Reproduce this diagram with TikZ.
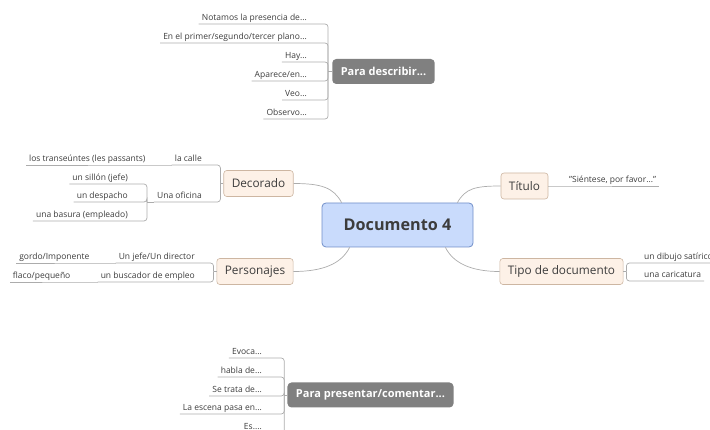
\documentclass[tikz,border=0pt]{standalone}
\usepackage{fontspec}
\setmainfont{Open Sans}
\usetikzlibrary{calc}
\definecolor{docfill}{RGB}{201,219,252}
\definecolor{docline}{RGB}{112,142,200}
\definecolor{topfill}{RGB}{253,241,231}
\definecolor{topline}{RGB}{205,182,162}
\definecolor{floatfill}{RGB}{128,128,128}
\definecolor{linegray}{RGB}{172,172,172}
\definecolor{txt}{RGB}{60,60,60}
\tikzset{
  central/.style={draw=docline, fill=docfill, rounded corners=4pt, line width=0.8pt,
    minimum width=151pt, minimum height=44pt, text=txt, font=\fontsize{16.2}{19}\selectfont\bfseries},
  topic/.style={draw=topline, fill=topfill, rounded corners=3pt, line width=0.6pt,
    inner xsep=8pt, minimum height=26pt, text=txt, font=\fontsize{11.8}{14}\selectfont},
  floating/.style={fill=floatfill, rounded corners=4pt, inner xsep=8.5pt, minimum height=25pt,
    text=white, font=\fontsize{11}{13}\selectfont\bfseries},
  leaf/.style={inner xsep=3pt, inner ysep=1.5pt, text height=6.3pt, text depth=2.2pt,
    text=txt, font=\fontsize{8.5}{10}\selectfont},
  conn/.style={draw=linegray, line width=0.7pt},
  brk/.style={conn, rounded corners=3pt}
}

\begin{document}
\begin{tikzpicture}[x=1pt, y=-1pt]
			%%%%% START %%%%%
			\useasboundingbox (0, 0) rectangle (710, 430);

			\node[central] (doc) at (397.5, 225) {Documento 4};

			\node[topic] (deco) at (258.5, 183.5) {Decorado};
			\node[topic] (pers) at (255, 271.5) {Personajes};
			\node[topic] (tit) at (524.5, 186) {Título};
			\node[topic] (tipo) at (561.5, 271.5) {Tipo de documento};

			\node[floating] (desc) at (383.5, 71.5) {Para describir...};
			\node[floating] (pres) at (370.5, 395) {Para presentar/comentar...};

			% branches from the centre
			\draw[conn] ([xshift=20pt]doc.north west) .. controls +(-8, -15) and +(28, 0) .. (deco.east);
			\draw[conn] ([xshift=28pt]doc.south west) .. controls +(-8, 16) and +(30, 0) .. (pers.east);
			\draw[conn] ([xshift=-16pt]doc.north east) .. controls +(8, -14) and +(-26, 0) .. (tit.west);
			\draw[conn] ([xshift=-28pt]doc.south east) .. controls +(8, 16) and +(-28, 0) .. (tipo.west);

			% para describir
			\node[leaf, anchor=south east] (d1) at (310, 24) {Notamos la presencia de...};
			\node[leaf, anchor=south east] (d2) at (310, 43) {En el primer/segundo/tercer plano...};
			\node[leaf, anchor=south east] (d3) at (310, 62) {Hay...};
			\node[leaf, anchor=south east] (d4) at (310, 81) {Aparece/en...};
			\node[leaf, anchor=south east] (d5) at (310, 100) {Veo...};
			\node[leaf, anchor=south east] (d6) at (310, 119) {Observo...};
			\draw[conn] (desc.west) -- ++(-4, 0) coordinate (descb);
			\foreach \n in {d1,d2,d3,d4,d5,d6}
				\draw[brk] (descb) |- (\n.south east) -- (\n.south west);

			% decorado
			\node[leaf, anchor=south east] (calle) at (205, 165) {la calle};
			\node[leaf, anchor=south east] (trans) at ([xshift=-23pt]calle.south west) {los transeúntes (les passants)};
			\node[leaf, anchor=south east] (ofi) at (205, 202) {Una oficina};
			\node[leaf, anchor=south east] (sillon) at (131, 184) {un sillón (jefe)};
			\node[leaf, anchor=south east] (desp) at (131, 202) {un despacho};
			\node[leaf, anchor=south east] (basura) at (131, 221) {una basura (empleado)};
			\draw[conn] (deco.west) -- ++(-3, 0) coordinate (decob);
			\foreach \n in {calle,ofi}
				\draw[brk] (decob) |- (\n.south east) -- (\n.south west);
			\draw[conn] (calle.south west) -- (trans.south east) -- (trans.south west);
			\draw[conn] (ofi.south west) -- ++(-7, 0) coordinate (ofib);
			\foreach \n in {sillon,desp,basura}
				\draw[brk] (ofib) |- (\n.south east) -- (\n.south west);

			% personajes
			\node[leaf, anchor=south east] (jefe) at (198, 263) {Un jefe/Un director};
			\node[leaf, anchor=south east] (gordo) at ([xshift=-23pt]jefe.south west) {gordo/Imponente};
			\node[leaf, anchor=south east] (busc) at (198, 282) {un buscador de empleo};
			\node[leaf, anchor=south east] (flaco) at ([xshift=-24pt]busc.south west) {flaco/pequeño};
			\draw[conn] (pers.west) -- ++(-3, 0) coordinate (persb);
			\foreach \n in {jefe,busc}
				\draw[brk] (persb) |- (\n.south east) -- (\n.south west);
			\draw[conn] (jefe.south west) -- (gordo.south east) -- (gordo.south west);
			\draw[conn] (busc.south west) -- (flaco.south east) -- (flaco.south west);

			% titulo
			\node[leaf, anchor=south west] (sient) at (566, 186) {"Siéntese, por favor..."};
			\draw[conn] (tit.east) -- (sient.south west) -- (sient.south east);

			% tipo de documento
			\node[leaf, anchor=south west] (dibujo) at (641, 263) {un dibujo satírico};
			\node[leaf, anchor=south west] (cari) at (641, 281) {una caricatura};
			\draw[conn] (tipo.east) -- ++(3, 0) coordinate (tipob);
			\foreach \n in {dibujo,cari}
				\draw[brk] (tipob) |- (\n.south west) -- (\n.south east);

			% para presentar
			\node[leaf, anchor=south east] (p1) at (265, 358) {Evoca...};
			\node[leaf, anchor=south east] (p2) at (265, 377) {habla de...};
			\node[leaf, anchor=south east] (p3) at (265, 396) {Se trata de...};
			\node[leaf, anchor=south east] (p4) at (265, 414) {La escena pasa en...};
			\node[leaf, anchor=south east] (p5) at (265, 433) {Es....};
			\draw[conn] (pres.west) -- ++(-3, 0) coordinate (presb);
			\foreach \n in {p1,p2,p3,p4,p5}
				\draw[brk] (presb) |- (\n.south east) -- (\n.south west);
			%%%%% END %%%%%
\end{tikzpicture}
\end{document}
